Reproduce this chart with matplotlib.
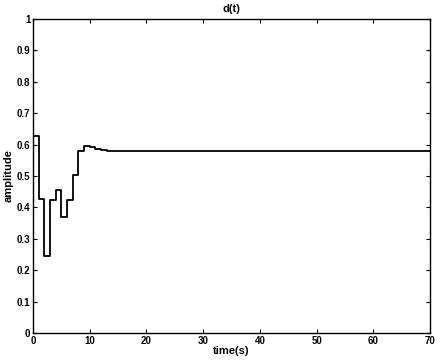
import numpy as np
import matplotlib
matplotlib.use("Agg")
import matplotlib.pyplot as plt

# step signal d(t), values held from each time until the next
t = [0, 1, 2, 3, 4, 5, 6, 7, 8, 9, 10, 11, 12, 13, 14, 15, 16, 70]
d = [0.628, 0.427, 0.246, 0.424, 0.456, 0.368, 0.422, 0.502, 0.578, 0.596,
     0.593, 0.587, 0.583, 0.580, 0.579, 0.578, 0.578, 0.578]

xticks = [0, 10, 20, 30, 40, 50, 60, 70]
yticks = [0, 0.1, 0.2, 0.3, 0.4, 0.5, 0.6, 0.7, 0.8, 0.9, 1]
ylabels = ["0", "0.1", "0.2", "0.3", "0.4", "0.5", "0.6", "0.7", "0.8", "0.9", "1"]

plt.rcParams['font.family'] = ['Liberation Sans', 'DejaVu Sans']
plt.rcParams['font.weight'] = 'bold'

fig = plt.figure(figsize=(4.41, 3.64), dpi=100)
ax = fig.add_axes([0.075, 0.085, 0.9, 0.863])
ax.step(t, d, where='post', color='black', linewidth=1.3)

ax.set_xlim(0, 70)
ax.set_ylim(0, 1)
ax.set_xticks(xticks)
ax.set_yticks(yticks)
ax.set_yticklabels(ylabels)
ax.tick_params(direction='in', labelsize=7, length=3, width=0.8, top=True, right=True, pad=2)
for s in ax.spines.values():
    s.set_linewidth(1.0)
for lab in ax.get_xticklabels() + ax.get_yticklabels():
    lab.set_fontweight('bold')

ax.set_title("d(t)", fontsize=8, fontweight='bold', pad=5)
ax.set_xlabel("time(s)", fontsize=8, fontweight='bold', labelpad=0)
ax.set_ylabel("amplitude", fontsize=8, fontweight='bold', labelpad=2)

plt.savefig("out.png", dpi=100)
